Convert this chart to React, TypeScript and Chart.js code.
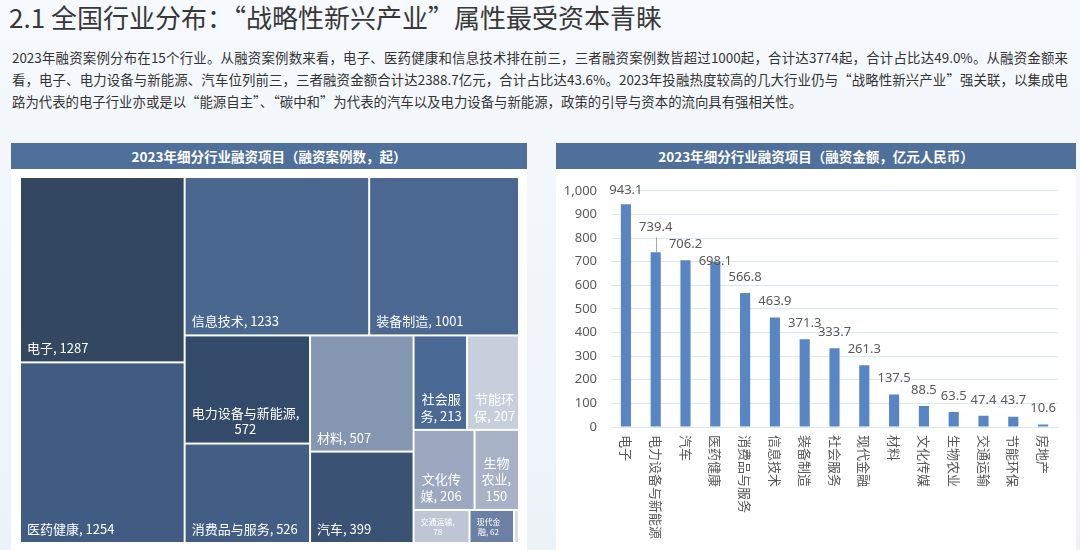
import React, { useEffect, useRef } from "react";
import { Chart, registerables } from "chart.js";

Chart.register(...registerables);

// ---------------- text ----------------
const pageTitle = "2.1 全国行业分布：“战略性新兴产业”属性最受资本青睐";
const introLines = [
  "2023年融资案例分布在15个行业。从融资案例数来看，电子、医药健康和信息技术排在前三，三者融资案例数皆超过1000起，合计达3774起，合计占比达49.0%。从融资金额来",
  "看，电子、电力设备与新能源、汽车位列前三，三者融资金额合计达2388.7亿元，合计占比达43.6%。2023年投融热度较高的几大行业仍与“战略性新兴产业”强关联，以集成电",
  "路为代表的电子行业亦或是以“能源自主”、“碳中和”为代表的汽车以及电力设备与新能源，政策的引导与资本的流向具有强相关性。",
];
const countChartTitle = "2023年细分行业融资项目（融资案例数，起）";
const amountChartTitle = "2023年细分行业融资项目（融资金额，亿元人民币）";

// ---------------- data ----------------
const countCategories = [
  "电子", "医药健康", "信息技术", "装备制造", "电力设备与新能源", "消费品与服务", "材料", "汽车",
  "社会服务", "节能环保", "文化传媒", "生物农业", "交通运输", "现代金融", "房地产",
];
const countValues = [1287, 1254, 1233, 1001, 572, 526, 507, 399, 213, 207, 206, 150, 78, 62, 7];

const amountCategories = [
  "电子", "电力设备与新能源", "汽车", "医药健康", "消费品与服务", "信息技术", "装备制造", "社会服务",
  "现代金融", "材料", "文化传媒", "生物农业", "交通运输", "节能环保", "房地产",
];
const amountValues = [943.1, 739.4, 706.2, 698.1, 566.8, 463.9, 371.3, 333.7, 261.3, 137.5, 88.5, 63.5, 47.4, 43.7, 10.6];
const amountAxisMin = 0;
const amountAxisMax = 1000;
const amountAxisStep = 100;

// ---------------- styles ----------------
const CJK = '"Noto Sans CJK SC", "Noto Sans", sans-serif';
const MIXED = '"Noto Sans", "Noto Sans CJK SC", sans-serif';
const headerColor = "#4f709b";
const cellColors = [
  "#334761", "#405c82", "#4a678f", "#4b6892", "#344a6a", "#425e84", "#8596b1", "#3a5273",
  "#4b6995", "#c8cfdc", "#9ba8bf", "#a8b2c6", "#bec6d5", "#6b80a4", "#d8dde6",
];
const barColor = "#5886c4";
const tickColor = "#595959";
const gridColor = "#dce7f4";
// label lift above bar top (px), leader line flag
const barLabelLift = [14, 25, 16, 1, 16, 16, 16, 16, 16, 16, 16, 16, 16, 16, 16];
const barLabelLeader = [false, true, false, false, false, false, false, false, false, false, false, false, false, false, false];

type Rect = { x: number; y: number; w: number; h: number };

function worst(row: number[], side: number): number {
  const s = row.reduce((a, b) => a + b, 0);
  const mx = Math.max(...row);
  const mn = Math.min(...row);
  return Math.max((side * side * mx) / (s * s), (s * s) / (side * side * mn));
}

function squarify(values: number[], rect: Rect): Rect[] {
  const total = values.reduce((a, b) => a + b, 0);
  const k = (rect.w * rect.h) / total;
  const areas = values.map((v) => v * k);
  const out: Rect[] = [];
  let r = { ...rect };
  let i = 0;
  while (i < areas.length) {
    const side = Math.min(r.w, r.h);
    let row = [areas[i]];
    let j = i + 1;
    while (j < areas.length) {
      const next = row.concat(areas[j]);
      if (worst(next, side) <= worst(row, side)) {
        row = next;
        j++;
      } else break;
    }
    const sum = row.reduce((a, b) => a + b, 0);
    if (r.w >= r.h) {
      const cw = sum / r.h;
      let y = r.y;
      for (const a of row) {
        const h = a / cw;
        out.push({ x: r.x, y, w: cw, h });
        y += h;
      }
      r = { x: r.x + cw, y: r.y, w: r.w - cw, h: r.h };
    } else {
      const rh = sum / r.w;
      let x = r.x;
      for (const a of row) {
        const w = a / rh;
        out.push({ x, y: r.y, w, h: rh });
        x += w;
      }
      r = { x: r.x, y: r.y + rh, w: r.w, h: r.h - rh };
    }
    i = j;
  }
  return out;
}

function tokenize(s: string): string[] {
  const tokens: string[] = [];
  let buf = "";
  for (const ch of s) {
    if (/[0-9A-Za-z.%]/.test(ch)) {
      buf += ch;
      continue;
    }
    if (buf) {
      tokens.push(buf);
      buf = "";
    }
    if ((ch === "," || ch === "，") && tokens.length) tokens[tokens.length - 1] += ch;
    else tokens.push(ch);
  }
  if (buf) tokens.push(buf);
  return tokens;
}

function wrapText(ctx: CanvasRenderingContext2D, s: string, maxW: number): string[] {
  const lines: string[] = [];
  let cur = "";
  for (const t of tokenize(s)) {
    const trial = cur + t;
    if (cur.trim() !== "" && ctx.measureText(trial.trim()).width > maxW) {
      lines.push(cur.trim());
      cur = t === " " ? "" : t;
    } else cur = trial;
  }
  if (cur.trim()) lines.push(cur.trim());
  return lines;
}

const treemapPlugin = {
  id: "treemapCells",
  afterDatasetsDraw(chart: any) {
    const { ctx, chartArea, scales } = chart;
    const W = chartArea.right - chartArea.left;
    const H = chartArea.bottom - chartArea.top;
    const rects = squarify(countValues, { x: 0, y: 0, w: W, h: H });
    const xs = scales.x;
    const ys = scales.y;
    ctx.save();
    rects.forEach((r, i) => {
      const x0 = xs.getPixelForValue(r.x / W);
      const x1 = xs.getPixelForValue((r.x + r.w) / W);
      const y0 = ys.getPixelForValue(r.y / H);
      const y1 = ys.getPixelForValue((r.y + r.h) / H);
      ctx.fillStyle = cellColors[i];
      ctx.fillRect(x0 + 1, y0 + 1, x1 - x0 - 2, y1 - y0 - 2);
      const cw = x1 - x0 - 2;
      const ch = y1 - y0 - 2;
      if (cw < 20) return;
      const small = ch < 45;
      const size = small ? 8 : 13;
      const lineH = small ? 10 : 16.5;
      const bottomOff = small ? 10 : 13;
      const fitPad = small ? 12 : 8;
      ctx.font = `${size}px ${CJK}`;
      const lines = wrapText(ctx, `${countCategories[i]}, ${countValues[i]}`, cw - fitPad);
      const blockW = Math.max(...lines.map((l) => ctx.measureText(l).width));
      const left = x0 + 1 + 6;
      const bottom = y1 - 1;
      ctx.fillStyle = "#ffffff";
      ctx.textAlign = "center";
      ctx.textBaseline = "middle";
      lines.forEach((l, k) => {
        const cy = bottom - bottomOff - (lines.length - 1 - k) * lineH;
        ctx.fillText(l, left + blockW / 2, cy);
      });
    });
    ctx.restore();
  },
};

const barLabelPlugin = {
  id: "barLabels",
  afterDatasetsDraw(chart: any) {
    const { ctx, chartArea, scales } = chart;
    const meta = chart.getDatasetMeta(0);
    ctx.save();
    meta.data.forEach((bar: any, i: number) => {
      const { x, y } = bar.getProps(["x", "y"], true);
      const lift = barLabelLift[i];
      if (barLabelLeader[i]) {
        ctx.strokeStyle = "#a6a6a6";
        ctx.lineWidth = 1;
        ctx.beginPath();
        ctx.moveTo(Math.round(x) + 0.5, y);
        ctx.lineTo(Math.round(x) + 0.5, y - lift + 10);
        ctx.stroke();
      }
      ctx.font = `13px ${MIXED}`;
      ctx.fillStyle = tickColor;
      ctx.textAlign = "center";
      ctx.textBaseline = "middle";
      ctx.fillText(amountValues[i].toFixed(1), x, y - lift);
    });
    // category labels, rotated clockwise
    const xs = scales.x;
    ctx.font = `13px ${CJK}`;
    ctx.fillStyle = tickColor;
    ctx.textAlign = "left";
    ctx.textBaseline = "middle";
    amountCategories.forEach((c, i) => {
      const px = xs.getPixelForTick(i);
      ctx.save();
      ctx.translate(px, chartArea.bottom + 8);
      ctx.rotate(Math.PI / 2);
      ctx.fillText(c, 0, 0);
      ctx.restore();
    });
    ctx.restore();
  },
};

export default function App() {
  const treeRef = useRef<HTMLCanvasElement>(null);
  const barRef = useRef<HTMLCanvasElement>(null);

  useEffect(() => {
    const tree = new Chart(treeRef.current as HTMLCanvasElement, {
      type: "scatter",
      data: { datasets: [{ data: [] }] },
      options: {
        animation: false,
        responsive: false,
        devicePixelRatio: 1,
        layout: { padding: { left: 9, right: 8, top: 8, bottom: 7 } },
        scales: {
          x: { type: "linear", min: 0, max: 1, display: false },
          y: { type: "linear", min: 0, max: 1, reverse: true, display: false },
        },
        plugins: { legend: { display: false }, tooltip: { enabled: false } },
      },
      plugins: [treemapPlugin],
    } as any);

    const bar = new Chart(barRef.current as HTMLCanvasElement, {
      type: "bar",
      data: {
        labels: amountCategories,
        datasets: [
          {
            data: amountValues,
            backgroundColor: barColor,
            barPercentage: 0.34,
            categoryPercentage: 1,
          },
        ],
      },
      options: {
        animation: false,
        responsive: false,
        devicePixelRatio: 1,
        layout: { padding: { left: 0, right: 18, top: 19, bottom: 0 } },
        scales: {
          x: {
            grid: { display: false },
            border: { display: true, color: gridColor },
            ticks: { display: false },
            afterFit: (s: any) => {
              s.height = 123;
            },
          },
          y: {
            min: amountAxisMin,
            max: amountAxisMax,
            ticks: { stepSize: amountAxisStep, color: tickColor, font: { size: 13, family: MIXED }, padding: 14 },
            grid: { color: gridColor, drawTicks: false },
            border: { display: false },
            afterFit: (s: any) => {
              s.width = 55;
            },
          },
        },
        plugins: { legend: { display: false }, tooltip: { enabled: false } },
      },
      plugins: [barLabelPlugin],
    } as any);

    return () => {
      tree.destroy();
      bar.destroy();
    };
  }, []);

  const headerStyle: React.CSSProperties = {
    height: 26,
    background: headerColor,
    color: "#ffffff",
    fontWeight: 700,
    fontSize: 13.5,
    lineHeight: "26px",
    textAlign: "center",
    fontFamily: CJK,
    whiteSpace: "nowrap",
  };

  return (
    <div
      style={{
        position: "fixed",
        left: 0,
        top: 0,
        width: 1080,
        height: 550,
        overflow: "hidden",
        background: "linear-gradient(to bottom, #f6f9fd, #edf2f9)",
        fontFamily: CJK,
      }}
    >
      <div
        style={{
          position: "absolute",
          left: 9,
          top: 2,
          fontSize: 26,
          lineHeight: "30px",
          color: "#383838",
          fontFamily: CJK,
          whiteSpace: "nowrap",
        }}
      >
        {pageTitle}
      </div>
      <div style={{ position: "absolute", left: 12, top: 46, width: 1056, fontSize: 13.4, lineHeight: "22px", color: "#333333" }}>
        {introLines.map((l, i) => (
          <div
            key={i}
            style={{
              whiteSpace: "nowrap",
              textAlign: i < introLines.length - 1 ? "justify" : "left",
              textAlignLast: i < introLines.length - 1 ? "justify" : "left",
            }}
          >
            {l}
          </div>
        ))}
      </div>

      <div style={{ position: "absolute", left: 11, top: 143, width: 516, height: 420, background: "#ffffff" }}>
        <div style={headerStyle}>{countChartTitle}</div>
        <canvas ref={treeRef} width={516} height={381} style={{ display: "block", width: 516, height: 381 }} />
      </div>

      <div style={{ position: "absolute", left: 556, top: 143, width: 520, height: 420, background: "#ffffff" }}>
        <div style={headerStyle}>{amountChartTitle}</div>
        <canvas ref={barRef} width={520} height={381} style={{ display: "block", width: 520, height: 381 }} />
      </div>
    </div>
  );
}
